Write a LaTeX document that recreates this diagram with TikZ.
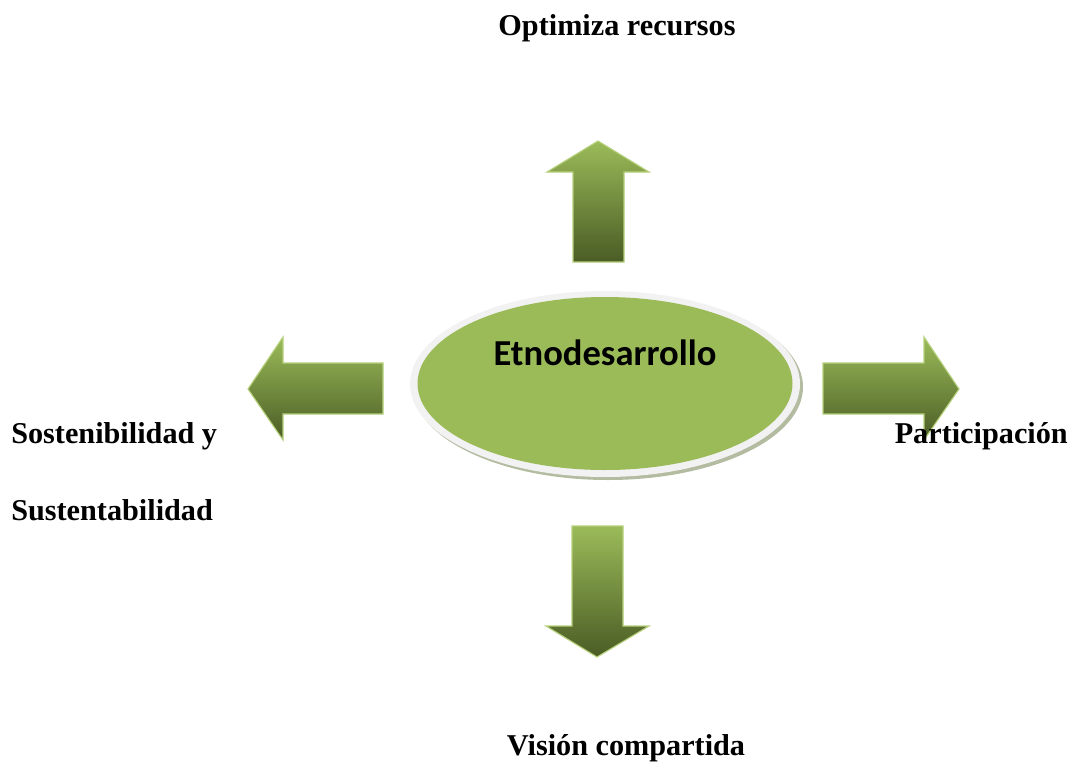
\documentclass[tikz,border=0pt]{standalone}
\usepackage{fontspec}
\setmainfont{Liberation Serif}
\newfontfamily\calibri{Carlito}

\definecolor{oliva}{HTML}{9BBB59}
\definecolor{olivaosc}{HTML}{4A5C25}
\definecolor{olivaborde}{HTML}{B5D07A}
\definecolor{anillo}{HTML}{F2F2F2}
\definecolor{sombra}{HTML}{B3BBA0}

\begin{document}
\begin{tikzpicture}[
            x = 0.025cm, y = -0.025cm, % pixel grid, y downwards
            flecha/.style = {
                draw = olivaborde,
                line width = 0.8pt,
                top color = oliva,
                bottom color = olivaosc
            },
            rotulo/.style = {
                font = \fontsize{21.5}{26}\selectfont\bfseries,
                inner sep = 0pt
            }
        ]

        \useasboundingbox (0,0) rectangle (1077,770);

        % ellipse with ring and shadow
        \fill[sombra] (608,387) ellipse [x radius=195, y radius=93];
        \fill[anillo] (605,384) ellipse [x radius=195, y radius=93];
        \fill[oliva] (605,383.5) ellipse [x radius=187.5, y radius=86.5];
        \node (etno) [anchor = base, inner sep = 0pt,
            font = \calibri\fontsize{26}{30}\selectfont\bfseries] at (605,365) {Etnodesarrollo};

        % block arrows
        \path[flecha] (573,262) -- (573,172) -- (547,172) -- (598,141)
            -- (649,172) -- (624,172) -- (624,262) -- cycle;
        \path[flecha] (383,363) -- (283,363) -- (283,337) -- (248,389)
            -- (283,440) -- (283,414) -- (383,414) -- cycle;
        \path[flecha] (823,363) -- (924,363) -- (924,337) -- (959,389)
            -- (924,440) -- (924,414) -- (823,414) -- cycle;
        \path[flecha] (572,526) -- (572,626) -- (546,626) -- (597,657)
            -- (649,626) -- (623,626) -- (623,526) -- cycle;

        % labels
        \node (optimiza) [rotulo, anchor = base] at (617,35) {Optimiza recursos};
        \node (sosten) [rotulo, anchor = base west] at (11,443) {Sostenibilidad y};
        \node (susten) [rotulo, anchor = base west] at (11,520) {Sustentabilidad};
        \node (partic) [rotulo, anchor = base east] at (1068,443) {Participación};
        \node (vision) [rotulo, anchor = base] at (626,755) {Visión compartida};

    \end{tikzpicture}
\end{document}
